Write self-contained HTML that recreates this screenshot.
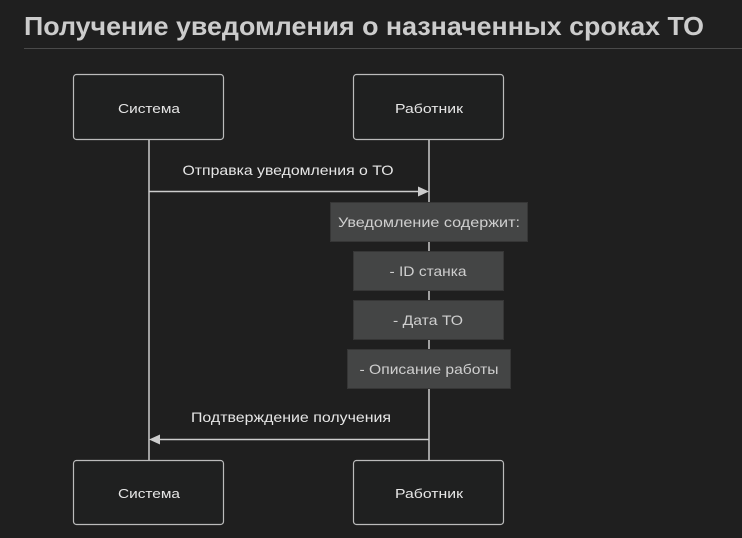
<!DOCTYPE html>
<html><head><meta charset="utf-8"><style>
body{margin:0;background:#1f1f1f;width:742px;height:533px;overflow:hidden;font-family:"Liberation Sans","DejaVu Sans",sans-serif}
</style></head><body>
<svg width="742" height="533" xmlns="http://www.w3.org/2000/svg">
<rect width="742" height="533" fill="#1f1f1f"/>
<text x="24" y="35" font-size="26" font-weight="bold" fill="#cccccc" font-family="Liberation Sans, sans-serif" textLength="680" lengthAdjust="spacingAndGlyphs">Получение уведомления о назначенных сроках ТО</text>
<line x1="24" y1="48.5" x2="742" y2="48.5" stroke="#4a4a4a" stroke-width="1"/>
<line x1="149" y1="140" x2="149" y2="460" stroke="#cccccc" stroke-width="1.5"/>
<line x1="429" y1="140" x2="429" y2="460" stroke="#cccccc" stroke-width="1.5"/>
<g fill="#1f2020" stroke="#bbbbbb" stroke-width="1.2">
<rect x="73.5" y="74.5" width="150" height="65" rx="3"/>
<rect x="353.5" y="74.5" width="150" height="65" rx="3"/>
<rect x="73.5" y="460.5" width="150" height="64" rx="3"/>
<rect x="353.5" y="460.5" width="150" height="64" rx="3"/>
</g>
<g font-size="13" fill="#e6e6e6" text-anchor="middle" lengthAdjust="spacingAndGlyphs">
<text x="149" y="113" textLength="62" lengthAdjust="spacingAndGlyphs">Система</text>
<text x="429" y="113" textLength="68" lengthAdjust="spacingAndGlyphs">Работник</text>
<text x="149" y="498" textLength="62" lengthAdjust="spacingAndGlyphs">Система</text>
<text x="429" y="498" textLength="68" lengthAdjust="spacingAndGlyphs">Работник</text>
<text x="288" y="175" font-size="14" textLength="211" lengthAdjust="spacingAndGlyphs">Отправка уведомления о ТО</text>
<text x="291" y="422" font-size="14" textLength="200" lengthAdjust="spacingAndGlyphs">Подтверждение получения</text>
</g>
<line x1="149" y1="191.5" x2="420" y2="191.5" stroke="#cccccc" stroke-width="1.5"/>
<polygon points="429,191.5 418,186.5 418,196.5" fill="#cccccc"/>
<line x1="158" y1="439.5" x2="429" y2="439.5" stroke="#cccccc" stroke-width="1.5"/>
<polygon points="149,439.5 160,434.5 160,444.5" fill="#cccccc"/>
<g fill="#444545" stroke="#363636" stroke-width="1">
<rect x="330.5" y="202.5" width="197" height="39"/>
<rect x="353.5" y="251.5" width="150" height="39"/>
<rect x="353.5" y="300.5" width="150" height="39"/>
<rect x="347.5" y="349.5" width="163" height="39"/>
</g>
<g font-size="14" fill="#cfcfcf" text-anchor="middle">
<text x="429" y="227" textLength="182" lengthAdjust="spacingAndGlyphs">Уведомление содержит:</text>
<text x="428" y="276" textLength="77" lengthAdjust="spacingAndGlyphs">- ID станка</text>
<text x="428" y="325" textLength="70" lengthAdjust="spacingAndGlyphs">- Дата ТО</text>
<text x="429" y="374" textLength="139" lengthAdjust="spacingAndGlyphs">- Описание работы</text>
</g>
</svg>
</body></html>
